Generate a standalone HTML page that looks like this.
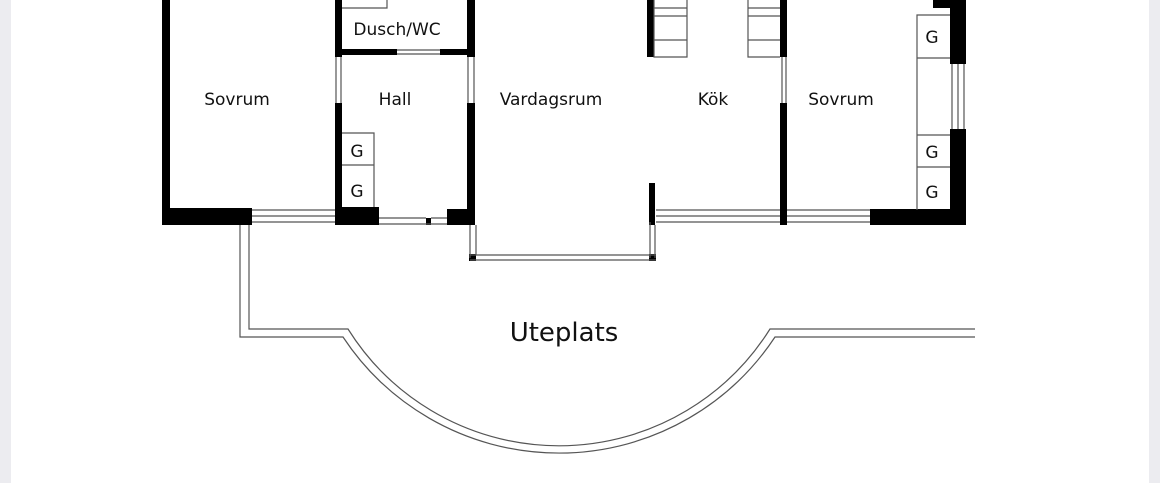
<!DOCTYPE html>
<html><head><meta charset="utf-8"><style>
html,body{margin:0;padding:0;background:#fff;}
body{width:1160px;height:483px;overflow:hidden;position:relative;}
svg{position:absolute;left:0;top:0;}
text{font-family:"DejaVu Sans","Liberation Sans",sans-serif;fill:#111;}
</style></head><body>
<svg width="1160" height="483" viewBox="0 0 1160 483">
<rect x="0" y="0" width="11" height="483" fill="#ececf0"/>
<rect x="1149" y="0" width="11" height="483" fill="#ececf0"/>
<g fill="#000">
<!-- left sovrum -->
<rect x="162" y="0" width="8" height="225"/>
<rect x="162" y="208" width="90" height="17"/>
<!-- wall sovrum/hall -->
<rect x="335" y="0" width="7" height="57"/>
<rect x="335" y="103" width="7" height="122"/>
<rect x="335" y="207" width="44" height="18"/>
<!-- dusch bottom -->
<rect x="335" y="49" width="62" height="6"/>
<rect x="440" y="49" width="35" height="6"/>
<!-- hall right -->
<rect x="467" y="0" width="8" height="57"/>
<rect x="467" y="103" width="8" height="122"/>
<rect x="447" y="209" width="28" height="16"/>
<rect x="426" y="218" width="5" height="7"/>
<!-- stub -->
<rect x="649" y="183" width="6" height="42"/>
<rect x="647" y="0" width="7" height="57"/>
<rect x="780" y="0" width="7" height="57"/>
<rect x="780" y="103" width="7" height="122"/>
<rect x="870" y="209" width="96" height="16"/>
<rect x="950" y="0" width="16" height="64"/>
<rect x="950" y="129" width="16" height="96"/>
<rect x="933" y="0" width="33" height="8"/>
<rect x="469" y="254" width="7" height="7"/>
<rect x="649" y="254" width="7" height="7"/>
</g>
<g fill="none" stroke="#555" stroke-width="1.2">
<!-- windows -->
<path d="M252 210H335M252 216H335M252 222H335"/>
<path d="M379 218H426M379 224H447M431 218H447"/>
<path d="M656 210H780M656 216H780M656 222H780"/>
<path d="M787 210H870M787 216H870M787 222H870"/>
<path d="M397 50H440M397 54H440"/>
<path d="M336 57V103M341 57V103M468 57V103M474 57V103M782 57V103M786 57V103"/>
<path d="M952 64V129M958 64V129M964 64V129"/>
<!-- bay -->
<path d="M470 225V258M476 225V255M650 222V258M655 225V258M470 255H656M470 260H656"/>
<!-- stairs -->
<path d="M654 0V57H687V0M654 8H687M654 16H687M654 40H687"/>
<path d="M748 0V57H780M748 8H780M748 16H780M748 40H780"/>
<!-- dusch box -->
<path d="M342 8H387V0"/>
<!-- G boxes -->
<path d="M342 133H374V207M342 165H374"/>
<path d="M950 15H917V210M917 58H950M917 135H950M917 167H950"/>
<!-- terrace -->
<path d="M240 225V337H343A259 259 0 0 0 775 337H975"/>
<path d="M249 225V329H348A249 249 0 0 0 770 329H975"/>
</g>
<g font-size="17" text-anchor="middle">
<text x="237" y="105">Sovrum</text>
<text x="397" y="35">Dusch/WC</text>
<text x="395" y="105">Hall</text>
<text x="551" y="105">Vardagsrum</text>
<text x="713" y="105">Kök</text>
<text x="841" y="105">Sovrum</text>
<text x="357" y="157">G</text>
<text x="357" y="197">G</text>
<text x="932" y="43">G</text>
<text x="932" y="158">G</text>
<text x="932" y="198">G</text>
</g>
<text x="564" y="341" font-size="26" text-anchor="middle">Uteplats</text>
</svg>
</body></html>
